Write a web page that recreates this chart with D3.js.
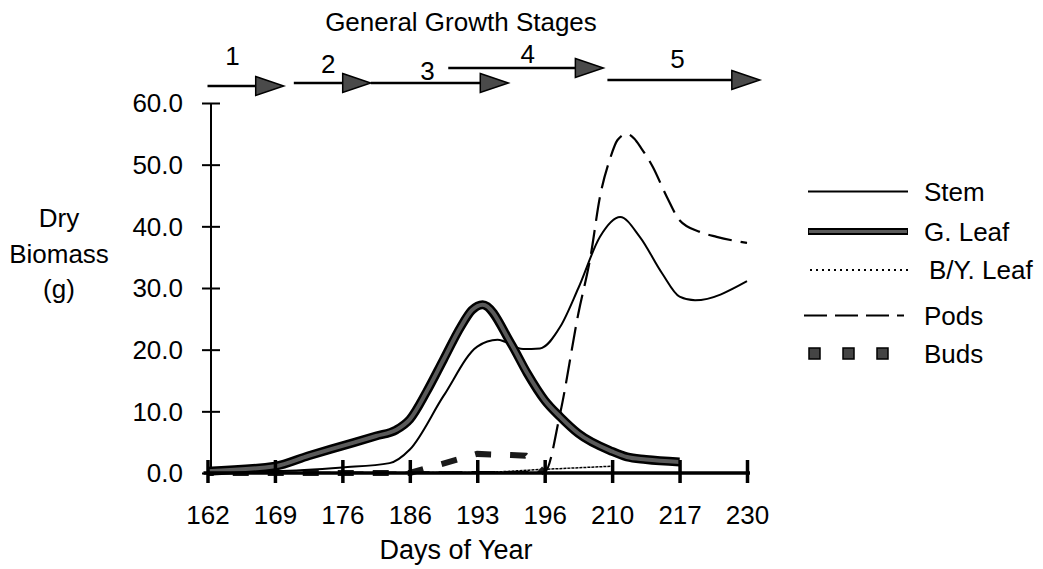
<!DOCTYPE html>
<html>
<head>
<meta charset="utf-8">
<script src="https://cdn.jsdelivr.net/npm/d3@7"></script>
<style>
  html, body { margin: 0; padding: 0; background: #fff; }
  svg { display: block; font-family: "Liberation Sans", Arial, sans-serif; }
</style>
</head>
<body>
<svg id="chart" width="1043" height="569"></svg>
<script>
// ---- data -------------------------------------------------------------
const days = ["162", "169", "176", "186", "193", "196", "210", "217", "230"];
const yTicks = [0, 10, 20, 30, 40, 50, 60];

// Each series: [position on the day axis (0 = first sampling day), dry biomass g]
const stem = [[0, 0.2], [1, 0.3], [2, 0.9], [2.7, 1.6], [3, 3.8], [3.5, 12.5], [4, 20.5],
  [4.3, 21.6], [4.68, 20.1], [4.93, 20.2], [5.23, 23.7], [5.5, 30.0], [5.82, 38.3],
  [6.12, 41.5], [6.41, 38.3], [6.74, 32.4], [7, 28.6], [7.23, 28.0], [8, 31.1]];
const gLeaf = [[0, 0.3], [1, 1.1], [1.5, 2.8], [2, 4.4], [2.5, 6.0], [2.8, 7.0], [3, 8.7],
  [3.25, 13.2], [3.5, 18.4], [3.75, 23.6], [3.92, 26.4], [4.08, 27.3],
  [4.5, 21.0], [4.74, 16.2], [5, 11.8], [5.23, 9.1], [5.5, 6.4], [6, 3.5], [6.22, 2.6],
  [6.5, 2.2], [7, 1.8]];
const byLeaf = [[0, 0], [4, 0.1], [5, 0.6], [6, 1.1]];
const pods = [[0, 0], [5, 0.2], [5.23, 9.7], [5.5, 25.9], [5.68, 35.1], [5.82, 44.8],
  [5.97, 51.0], [6.08, 54.0], [6.22, 55.0], [6.33, 54.2], [6.43, 52.7], [6.6, 49.7],
  [6.81, 44.8], [7, 41.0], [7.3, 39.1], [7.55, 38.3], [8, 37.3]];
const buds = [[0, 0], [1, 0], [2, 0], [3, 0], [4, 3.1], [4.5, 2.9], [4.72, 2.8], [5, 0]];

// Growth stage spans along the day axis
const stageNames = ["1", "2", "3", "4", "5"];
const stageFrom = [0, 1.28, 2.42, 3.57, 5.93];
const stageTo = [1.13, 2.42, 4.46, 5.87, 8.19];

// ---- layout -----------------------------------------------------------
const svg = d3.select("#chart");
const FONT = 26;
const x = d3.scaleLinear().domain([0, days.length - 1]).range([207.5, 747]);
const y = d3.scaleLinear().domain([0, 60]).range([473, 103]);
const yAxisX = 211;

const line = (curve) => d3.line().x(d => x(d[0])).y(d => y(d[1])).curve(curve);

// Title
svg.append("text").attr("x", 461).attr("y", 31).attr("text-anchor", "middle")
  .attr("font-size", FONT).text("General Growth Stages");

// Growth stage arrows
const stageRowY = [86, 83, 83, 68, 80];
const stageLabelBase = [65, 73, 80, 63, 68];
const stageLabelDx = [-13, -4, -12, 2, -6];
const headLen = 28, headHalf = 9.5;
stageNames.forEach((name, i) => {
  const x0 = x(stageFrom[i]), x1 = x(stageTo[i]), yy = stageRowY[i];
  svg.append("line").attr("x1", x0).attr("x2", x1 - headLen + 2)
    .attr("y1", yy).attr("y2", yy).attr("stroke", "#000").attr("stroke-width", 2.5);
  svg.append("path")
    .attr("d", `M${x1 - headLen},${yy - headHalf}L${x1},${yy}L${x1 - headLen},${yy + headHalf}Z`)
    .attr("fill", "#4a4a4a").attr("stroke", "#000").attr("stroke-width", 1.5)
    .attr("stroke-linejoin", "miter");
  svg.append("text").attr("x", (x0 + x1) / 2 + stageLabelDx[i]).attr("y", stageLabelBase[i])
    .attr("text-anchor", "middle").attr("font-size", FONT).text(name);
});

// Y axis
const yAxisG = svg.append("g").attr("transform", `translate(${yAxisX},0)`)
  .call(d3.axisLeft(y).tickValues(yTicks).tickFormat(d3.format(".1f")).tickSize(9).tickPadding(20));
yAxisG.select(".domain").attr("d", `M0,${y(60)}V${y(0)}`).attr("stroke-width", 2);
yAxisG.selectAll(".tick line").attr("x1", 9).attr("x2", -9).attr("stroke-width", 2);
yAxisG.selectAll(".tick text").attr("font-size", FONT).attr("font-family", null)
  .attr("x", -28).attr("dy", "0.34em");

// Y axis title
["Dry", "Biomass", "(g)"].forEach((t, i) => {
  svg.append("text").attr("x", 59).attr("y", 227 + i * 35.5).attr("text-anchor", "middle")
    .attr("font-size", FONT).text(t);
});

// Series
const plot = svg.append("g");
plot.append("path").datum(pods).attr("d", line(d3.curveMonotoneX))
  .attr("fill", "none").attr("stroke", "#000").attr("stroke-width", 2.2)
  .attr("stroke-dasharray", "24,9");
plot.append("path").datum(byLeaf).attr("d", line(d3.curveMonotoneX))
  .attr("fill", "none").attr("stroke", "#000").attr("stroke-width", 1.5)
  .attr("stroke-dasharray", "3,1");

// Buds: square-dot pattern, phased so a dash begins on the rising segment
const budPath = plot.append("path").datum(buds).attr("d", line(d3.curveLinear))
  .attr("fill", "none").attr("stroke", "#1a1a1a").attr("stroke-width", 6);
{
  const node = budPath.node();
  const total = node.getTotalLength();
  const targetX = x(3.47);
  let lo = 0, hi = total;
  for (let k = 0; k < 40; k++) {
    const mid = (lo + hi) / 2;
    if (node.getPointAtLength(mid).x < targetX) lo = mid; else hi = mid;
  }
  const dash = 16, gap = 19, period = dash + gap;
  budPath.attr("stroke-dasharray", `${dash},${gap}`)
    .attr("stroke-dashoffset", period - (lo % period));
}

plot.append("path").datum(stem).attr("d", line(d3.curveMonotoneX))
  .attr("fill", "none").attr("stroke", "#000").attr("stroke-width", 2);
plot.append("path").datum(gLeaf).attr("d", line(d3.curveMonotoneX))
  .attr("fill", "none").attr("stroke", "#000").attr("stroke-width", 9)
  .attr("stroke-linejoin", "round");
plot.append("path").datum(gLeaf).attr("d", line(d3.curveMonotoneX))
  .attr("fill", "none").attr("stroke", "#5a5a5a").attr("stroke-width", 4)
  .attr("stroke-linejoin", "round");

// X axis
const xAxisG = svg.append("g").attr("transform", `translate(0,${y(0)})`)
  .call(d3.axisBottom(x).tickValues(d3.range(days.length)).tickFormat(i => days[i])
    .tickSize(10).tickPadding(36));
xAxisG.select(".domain").attr("d", `M${x(0) - 4},0H${x(days.length - 1) + 3}`).attr("stroke-width", 3.5);
xAxisG.selectAll(".tick line").attr("y1", -13).attr("y2", 10).attr("stroke-width", 3.5);
xAxisG.selectAll(".tick text").attr("font-size", FONT).attr("font-family", null).attr("dy", "0.2em");

svg.append("text").attr("x", 456).attr("y", 559).attr("text-anchor", "middle")
  .attr("font-size", 27).text("Days of Year");

// Legend
const lgX0 = 808, lgX1 = 908;
const lg = svg.append("g");
const rowStem = 191.5, rowLeaf = 231.5, rowBY = 270, rowPods = 315.5, rowBuds = 353.5;
lg.append("line").attr("x1", lgX0).attr("x2", lgX1).attr("y1", rowStem).attr("y2", rowStem)
  .attr("stroke", "#000").attr("stroke-width", 2);
lg.append("line").attr("x1", lgX0).attr("x2", lgX1).attr("y1", rowLeaf).attr("y2", rowLeaf)
  .attr("stroke", "#000").attr("stroke-width", 7);
lg.append("line").attr("x1", lgX0 + 1).attr("x2", lgX1 - 1).attr("y1", rowLeaf).attr("y2", rowLeaf)
  .attr("stroke", "#5a5a5a").attr("stroke-width", 3);
lg.append("line").attr("x1", lgX0 + 2).attr("x2", lgX1).attr("y1", rowBY).attr("y2", rowBY)
  .attr("stroke", "#000").attr("stroke-width", 2).attr("stroke-dasharray", "2,4");
lg.append("line").attr("x1", lgX0 - 4).attr("x2", lgX1 - 4).attr("y1", rowPods).attr("y2", rowPods)
  .attr("stroke", "#000").attr("stroke-width", 2.2).attr("stroke-dasharray", "23,8");
[0, 1, 2].forEach(k => {
  lg.append("rect").attr("x", lgX0 + 1 + k * 34).attr("y", rowBuds - 5.5)
    .attr("width", 11).attr("height", 11).attr("fill", "#444").attr("stroke", "#000").attr("stroke-width", 1.5);
});
[["Stem", rowStem, 924], ["G. Leaf", rowLeaf, 924], ["B/Y. Leaf", rowBY, 929],
 ["Pods", rowPods, 924], ["Buds", rowBuds, 924]].forEach(([t, ry, tx]) => {
  lg.append("text").attr("x", tx).attr("y", ry + 9).attr("font-size", FONT).text(t);
});
</script>
</body>
</html>
